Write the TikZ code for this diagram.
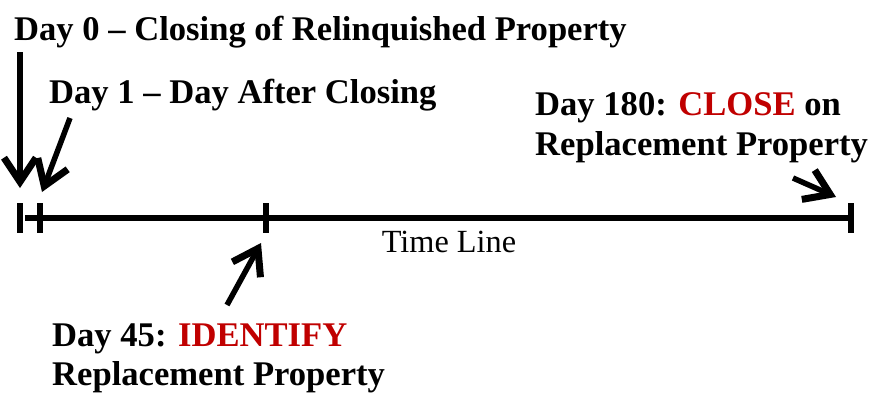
\documentclass[tikz,border=0pt]{standalone}
\usepackage{fontspec}
\setmainfont{Liberation Serif}
\usetikzlibrary{arrows.meta}
\definecolor{hired}{HTML}{C00000}
\begin{document}
\begin{tikzpicture}[x=1pt,y=-1pt,
  lbl/.style={anchor=base west,inner sep=0pt,font=\fontsize{34.6}{40}\selectfont\bfseries},
  tl/.style={anchor=base,inner sep=0pt,font=\fontsize{32.3}{36}\selectfont},
  axis/.style={line width=5.5pt},
  tickmark/.style={line width=5.5pt},
  pointer/.style={line width=5.5pt,-{Straight Barb[length=24pt,width=32pt,line width=7pt]}}]
\useasboundingbox (0,0) rectangle (871,394);
% ticks
\coordinate (t0a) at (20,203); \coordinate (t0b) at (20,233);
\coordinate (t1a) at (40,203); \coordinate (t1b) at (40,233);
\coordinate (t45a) at (266,203); \coordinate (t45b) at (266,233);
\coordinate (t180a) at (851,203); \coordinate (t180b) at (851,233);
\coordinate (ls) at (25,218); \coordinate (le) at (851,218);
\draw[axis] (ls) -- (le);
\draw[tickmark] (t0a) -- (t0b);
\draw[tickmark] (t1a) -- (t1b);
\draw[tickmark] (t45a) -- (t45b);
\draw[tickmark] (t180a) -- (t180b);
\node[tl] (timeline) at (449,252) {Time Line};
% labels
\node[lbl] (d0) at (14,40) {Day 0 -- Closing of Relinquished Property};
\node[lbl] (d1) at (49,103) {Day 1 -- Day After Closing};
\node[lbl] (d180a) at (535,115) {Day 180: \textcolor{hired}{CLOSE} on};
\node[lbl] (d180b) at (535,155) {Replacement Property};
\node[lbl] (d45a) at (52,346) {Day 45: \textcolor{hired}{IDENTIFY}};
\node[lbl] (d45b) at (52,385) {Replacement Property};
% arrows
\coordinate (a0s) at (20,52); \coordinate (a0e) at (20,188);
\coordinate (a1s) at (70,118); \coordinate (a1e) at (42,192);
\coordinate (a45s) at (227,305); \coordinate (a45e) at (261,243);
\coordinate (a180s) at (793,178); \coordinate (a180e) at (836,197);
\draw[pointer] (a0s) -- (a0e);
\draw[pointer] (a1s) -- (a1e);
\draw[pointer] (a45s) -- (a45e);
\draw[pointer] (a180s) -- (a180e);
\end{tikzpicture}
\end{document}
